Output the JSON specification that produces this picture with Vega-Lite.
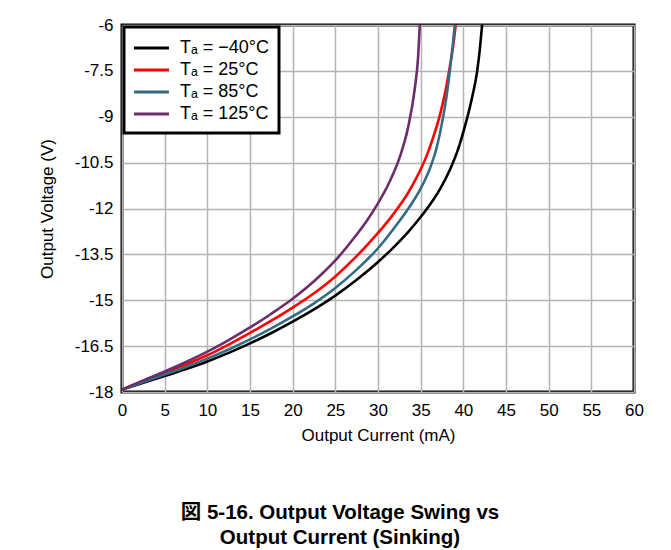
{
  "$schema": "https://vega.github.io/schema/vega-lite/v6.json",
  "autosize": "none",
  "width": 512,
  "height": 367,
  "padding": {"left": 122, "top": 25, "right": 37, "bottom": 158},
  "background": "white",
  "config": {
    "font": "Liberation Sans",
    "view": {"stroke": "black", "strokeWidth": 3}
  },
  "title": {
    "text": ["図 5-16. Output Voltage Swing vs", "Output Current (Sinking)"],
    "orient": "bottom",
    "anchor": "middle",
    "font": "Liberation Sans, Noto Sans CJK JP",
    "fontSize": 20.5,
    "fontWeight": "bold",
    "color": "black",
    "offset": 60,
    "dx": -38,
    "lineHeight": 25
  },
  "data": {
    "values": [
      {"T": "Tₐ = −40°C", "I": 0, "V": -17.92},
      {"T": "Tₐ = −40°C", "I": 2.5, "V": -17.7},
      {"T": "Tₐ = −40°C", "I": 5, "V": -17.48},
      {"T": "Tₐ = −40°C", "I": 7.5, "V": -17.25},
      {"T": "Tₐ = −40°C", "I": 10, "V": -17.0},
      {"T": "Tₐ = −40°C", "I": 12.5, "V": -16.72},
      {"T": "Tₐ = −40°C", "I": 15, "V": -16.41},
      {"T": "Tₐ = −40°C", "I": 17.5, "V": -16.07},
      {"T": "Tₐ = −40°C", "I": 20, "V": -15.7},
      {"T": "Tₐ = −40°C", "I": 22.5, "V": -15.3},
      {"T": "Tₐ = −40°C", "I": 25, "V": -14.85},
      {"T": "Tₐ = −40°C", "I": 27.5, "V": -14.33},
      {"T": "Tₐ = −40°C", "I": 30, "V": -13.75},
      {"T": "Tₐ = −40°C", "I": 32, "V": -13.22},
      {"T": "Tₐ = −40°C", "I": 33.5, "V": -12.78},
      {"T": "Tₐ = −40°C", "I": 35, "V": -12.28},
      {"T": "Tₐ = −40°C", "I": 36.2, "V": -11.83},
      {"T": "Tₐ = −40°C", "I": 37.3, "V": -11.35},
      {"T": "Tₐ = −40°C", "I": 38.4, "V": -10.75},
      {"T": "Tₐ = −40°C", "I": 39.4, "V": -10.05},
      {"T": "Tₐ = −40°C", "I": 40.2, "V": -9.3},
      {"T": "Tₐ = −40°C", "I": 41, "V": -8.4},
      {"T": "Tₐ = −40°C", "I": 41.6, "V": -7.55},
      {"T": "Tₐ = −40°C", "I": 41.95, "V": -6.75},
      {"T": "Tₐ = −40°C", "I": 42.2, "V": -6.0},

      {"T": "Tₐ = 25°C", "I": 0, "V": -17.92},
      {"T": "Tₐ = 25°C", "I": 2.5, "V": -17.64},
      {"T": "Tₐ = 25°C", "I": 5, "V": -17.38},
      {"T": "Tₐ = 25°C", "I": 7.5, "V": -17.1},
      {"T": "Tₐ = 25°C", "I": 10, "V": -16.8},
      {"T": "Tₐ = 25°C", "I": 12.5, "V": -16.45},
      {"T": "Tₐ = 25°C", "I": 15, "V": -16.07},
      {"T": "Tₐ = 25°C", "I": 17.5, "V": -15.67},
      {"T": "Tₐ = 25°C", "I": 20, "V": -15.24},
      {"T": "Tₐ = 25°C", "I": 22.5, "V": -14.77},
      {"T": "Tₐ = 25°C", "I": 25, "V": -14.22},
      {"T": "Tₐ = 25°C", "I": 27.5, "V": -13.56},
      {"T": "Tₐ = 25°C", "I": 30, "V": -12.8},
      {"T": "Tₐ = 25°C", "I": 31.4, "V": -12.33},
      {"T": "Tₐ = 25°C", "I": 32.6, "V": -11.88},
      {"T": "Tₐ = 25°C", "I": 33.5, "V": -11.5},
      {"T": "Tₐ = 25°C", "I": 34.5, "V": -11.0},
      {"T": "Tₐ = 25°C", "I": 35.7, "V": -10.28},
      {"T": "Tₐ = 25°C", "I": 36.5, "V": -9.65},
      {"T": "Tₐ = 25°C", "I": 37.3, "V": -8.9},
      {"T": "Tₐ = 25°C", "I": 37.8, "V": -8.3},
      {"T": "Tₐ = 25°C", "I": 38.4, "V": -7.4},
      {"T": "Tₐ = 25°C", "I": 38.8, "V": -6.7},
      {"T": "Tₐ = 25°C", "I": 39.1, "V": -6.0},

      {"T": "Tₐ = 85°C", "I": 0, "V": -17.92},
      {"T": "Tₐ = 85°C", "I": 2.5, "V": -17.67},
      {"T": "Tₐ = 85°C", "I": 5, "V": -17.43},
      {"T": "Tₐ = 85°C", "I": 7.5, "V": -17.18},
      {"T": "Tₐ = 85°C", "I": 10, "V": -16.91},
      {"T": "Tₐ = 85°C", "I": 12.5, "V": -16.61},
      {"T": "Tₐ = 85°C", "I": 15, "V": -16.28},
      {"T": "Tₐ = 85°C", "I": 17.5, "V": -15.92},
      {"T": "Tₐ = 85°C", "I": 20, "V": -15.53},
      {"T": "Tₐ = 85°C", "I": 22.5, "V": -15.1},
      {"T": "Tₐ = 85°C", "I": 25, "V": -14.6},
      {"T": "Tₐ = 85°C", "I": 27.5, "V": -14.0},
      {"T": "Tₐ = 85°C", "I": 30, "V": -13.3},
      {"T": "Tₐ = 85°C", "I": 32.4, "V": -12.45},
      {"T": "Tₐ = 85°C", "I": 33.8, "V": -11.9},
      {"T": "Tₐ = 85°C", "I": 34.9, "V": -11.4},
      {"T": "Tₐ = 85°C", "I": 36.1, "V": -10.68},
      {"T": "Tₐ = 85°C", "I": 36.9, "V": -9.98},
      {"T": "Tₐ = 85°C", "I": 37.5, "V": -9.2},
      {"T": "Tₐ = 85°C", "I": 38.05, "V": -8.3},
      {"T": "Tₐ = 85°C", "I": 38.4, "V": -7.55},
      {"T": "Tₐ = 85°C", "I": 38.8, "V": -6.55},
      {"T": "Tₐ = 85°C", "I": 39.0, "V": -6.0},

      {"T": "Tₐ = 125°C", "I": 0, "V": -17.92},
      {"T": "Tₐ = 125°C", "I": 2.5, "V": -17.62},
      {"T": "Tₐ = 125°C", "I": 5, "V": -17.33},
      {"T": "Tₐ = 125°C", "I": 7.5, "V": -17.02},
      {"T": "Tₐ = 125°C", "I": 10, "V": -16.68},
      {"T": "Tₐ = 125°C", "I": 12.5, "V": -16.3},
      {"T": "Tₐ = 125°C", "I": 15, "V": -15.89},
      {"T": "Tₐ = 125°C", "I": 17.5, "V": -15.44},
      {"T": "Tₐ = 125°C", "I": 20, "V": -14.95},
      {"T": "Tₐ = 125°C", "I": 22.5, "V": -14.38},
      {"T": "Tₐ = 125°C", "I": 25, "V": -13.7},
      {"T": "Tₐ = 125°C", "I": 27.5, "V": -12.85},
      {"T": "Tₐ = 125°C", "I": 28.7, "V": -12.4},
      {"T": "Tₐ = 125°C", "I": 29.85, "V": -11.9},
      {"T": "Tₐ = 125°C", "I": 31.4, "V": -11.1},
      {"T": "Tₐ = 125°C", "I": 32.6, "V": -10.28},
      {"T": "Tₐ = 125°C", "I": 33.5, "V": -9.38},
      {"T": "Tₐ = 125°C", "I": 34.3, "V": -8.1},
      {"T": "Tₐ = 125°C", "I": 34.7, "V": -7.05},
      {"T": "Tₐ = 125°C", "I": 34.9, "V": -6.0}
    ]
  },
  "mark": {"type": "line", "strokeWidth": 2.6, "interpolate": "monotone", "clip": true},
  "encoding": {
    "x": {
      "field": "I",
      "type": "quantitative",
      "scale": {"domain": [0, 60], "nice": false, "zero": false},
      "axis": {
        "values": [0, 5, 10, 15, 20, 25, 30, 35, 40, 45, 50, 55, 60],
        "title": "Output Current (mA)",
        "titleFontSize": 17,
        "titleFontWeight": "normal",
        "titleColor": "black",
        "titlePadding": 9,
        "labelFontSize": 17,
        "labelColor": "black",
        "labelPadding": 10,
        "labelFlush": false,
        "ticks": false,
        "domain": false,
        "grid": true,
        "gridColor": "#b4b4b4",
        "gridWidth": 1.5,
        "gridOpacity": 1
      }
    },
    "y": {
      "field": "V",
      "type": "quantitative",
      "scale": {"domain": [-18, -6], "nice": false, "zero": false},
      "axis": {
        "values": [-18, -16.5, -15, -13.5, -12, -10.5, -9, -7.5, -6],
        "labelExpr": "'' + datum.value",
        "title": "Output Voltage (V)",
        "titleFontSize": 17,
        "titleFontWeight": "normal",
        "titleColor": "black",
        "titlePadding": 18,
        "labelFontSize": 17,
        "labelColor": "black",
        "labelPadding": 9,
        "labelFlush": false,
        "ticks": false,
        "domain": false,
        "grid": true,
        "gridColor": "#b4b4b4",
        "gridWidth": 1.5,
        "gridOpacity": 1
      }
    },
    "color": {
      "field": "T",
      "type": "nominal",
      "scale": {
        "domain": ["Tₐ = −40°C", "Tₐ = 25°C", "Tₐ = 85°C", "Tₐ = 125°C"],
        "range": ["#000000", "#ff0000", "#336b84", "#6b2d6b"]
      },
      "legend": {
        "title": null,
        "orient": "top-left",
        "offset": 2,
        "fillColor": "white",
        "strokeColor": "black",
        "padding": 10,
        "symbolType": "M-1.2,0H2.6",
        "symbolSize": 340,
        "symbolStrokeWidth": 3,
        "labelFontSize": 18,
        "labelColor": "black",
        "labelOffset": 24,
        "rowPadding": 2,
        "labelLimit": 300,
        "encode": {"legend": {"update": {"strokeWidth": {"value": 3}}}}
      }
    }
  }
}
